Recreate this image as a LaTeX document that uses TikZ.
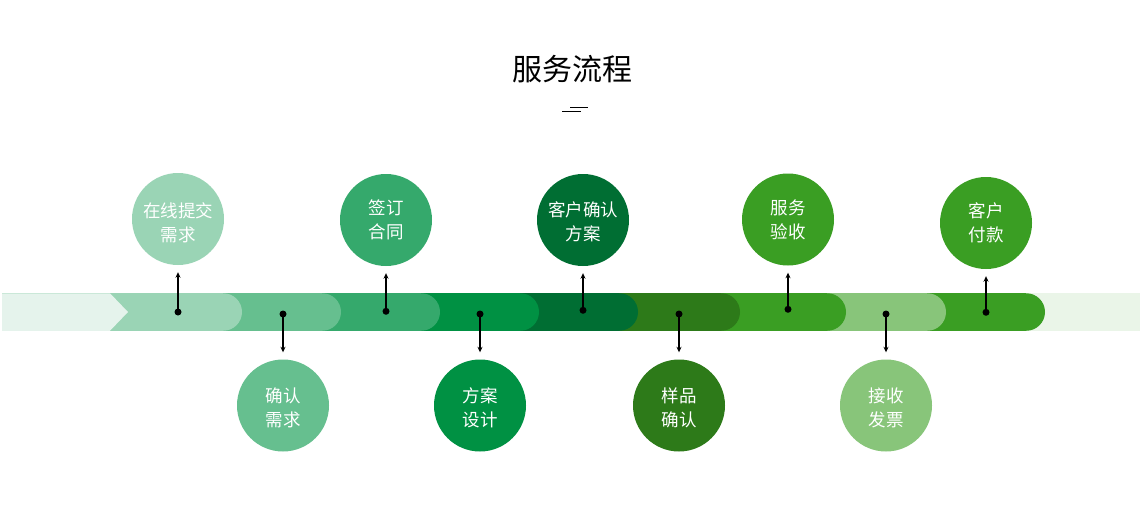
\documentclass[tikz,border=0pt]{standalone}
\usepackage{fontspec}
\setmainfont{Noto Sans CJK SC}
\usetikzlibrary{arrows.meta}
\definecolor{cA}{HTML}{9AD4B5}
\definecolor{cB}{HTML}{66BF8F}
\definecolor{cC}{HTML}{35A96C}
\definecolor{cD}{HTML}{009143}
\definecolor{cE}{HTML}{006E33}
\definecolor{cF}{HTML}{2D7A19}
\definecolor{cG}{HTML}{3A9E23}
\definecolor{cH}{HTML}{88C57A}
\definecolor{bgL}{HTML}{E5F3EC}
\definecolor{bgR}{HTML}{EAF5E8}
\tikzset{
  circ/.style={circle,minimum size=92pt,inner sep=0pt},
  lbl/.style={text=white,align=center,font=\fontsize{17.5pt}{24pt}\selectfont,inner sep=0pt},
  dotnode/.style={circle,fill=black,minimum size=7pt,inner sep=0pt},
  arr/.style={-{Stealth[length=5.5pt,width=5pt]},line width=1.1pt,shorten >=7pt},
}
\newcommand{\seg}[2]{\fill[#1] (2,293.25) rectangle ({#2-18.75},330.75); \fill[#1] ({#2-18.75},312) circle[radius=18.75pt];}
\begin{document}
\begin{tikzpicture}[x=1pt,y=-1pt]
\useasboundingbox (0,0) rectangle (1140,522);
% title
\node[font=\fontsize{30pt}{34pt}\selectfont,inner sep=0pt] (title) at (572.5,69.5) {服务流程};
\coordinate (u1a) at (570,107.5); \coordinate (u1b) at (588,107.5);
\coordinate (u2a) at (562,111.5); \coordinate (u2b) at (581,111.5);
\draw[line width=1.4pt] (u1a) -- (u1b);
\draw[line width=1.4pt] (u2a) -- (u2b);
% band
\fill[bgR] (1000,293.25) rectangle (1140,330.75);
\seg{cG}{1045}
\seg{cH}{946}
\seg{cG}{846}
\seg{cF}{740}
\seg{cE}{638}
\seg{cD}{539}
\seg{cC}{440}
\seg{cB}{341}
\seg{cA}{242}
\fill[bgL] (2,293.25) -- (110,293.25) -- (128,312) -- (110,330.75) -- (2,330.75) -- cycle;
% circles
\node[circ,fill=cA] (c1) at (178,219) {};
\node[circ,fill=cB] (c2) at (283,405.5) {};
\node[circ,fill=cC] (c3) at (386,220) {};
\node[circ,fill=cD] (c4) at (480,405.5) {};
\node[circ,fill=cE] (c5) at (583,220) {};
\node[circ,fill=cF] (c6) at (679,405.5) {};
\node[circ,fill=cG] (c7) at (788,219.5) {};
\node[circ,fill=cH] (c8) at (886,405.5) {};
\node[circ,fill=cG] (c9) at (986,223) {};
\node[lbl] (t1) at (178,223) {在线提交\\需求};
\node[lbl] (t2) at (283,407.5) {确认\\需求};
\node[lbl] (t3) at (386,220) {签订\\合同};
\node[lbl] (t4) at (480,407.5) {方案\\设计};
\node[lbl] (t5) at (583,222) {客户确认\\方案};
\node[lbl] (t6) at (679,407.5) {样品\\确认};
\node[lbl] (t7) at (788,220) {服务\\验收};
\node[lbl] (t8) at (886,407.5) {接收\\发票};
\node[lbl] (t9) at (986,223) {客户\\付款};
% dots
\node[dotnode] (d1) at (178,312) {};
\node[dotnode] (d2) at (283,314) {};
\node[dotnode] (d3) at (386,311.3) {};
\node[dotnode] (d4) at (480,314) {};
\node[dotnode] (d5) at (583,310.3) {};
\node[dotnode] (d6) at (679,314) {};
\node[dotnode] (d7) at (788,309.3) {};
\node[dotnode] (d8) at (886,314) {};
\node[dotnode] (d9) at (986,312.3) {};
\foreach \i in {1,...,9} {\draw[arr] (d\i.center) -- (c\i);}
\end{tikzpicture}
\end{document}
